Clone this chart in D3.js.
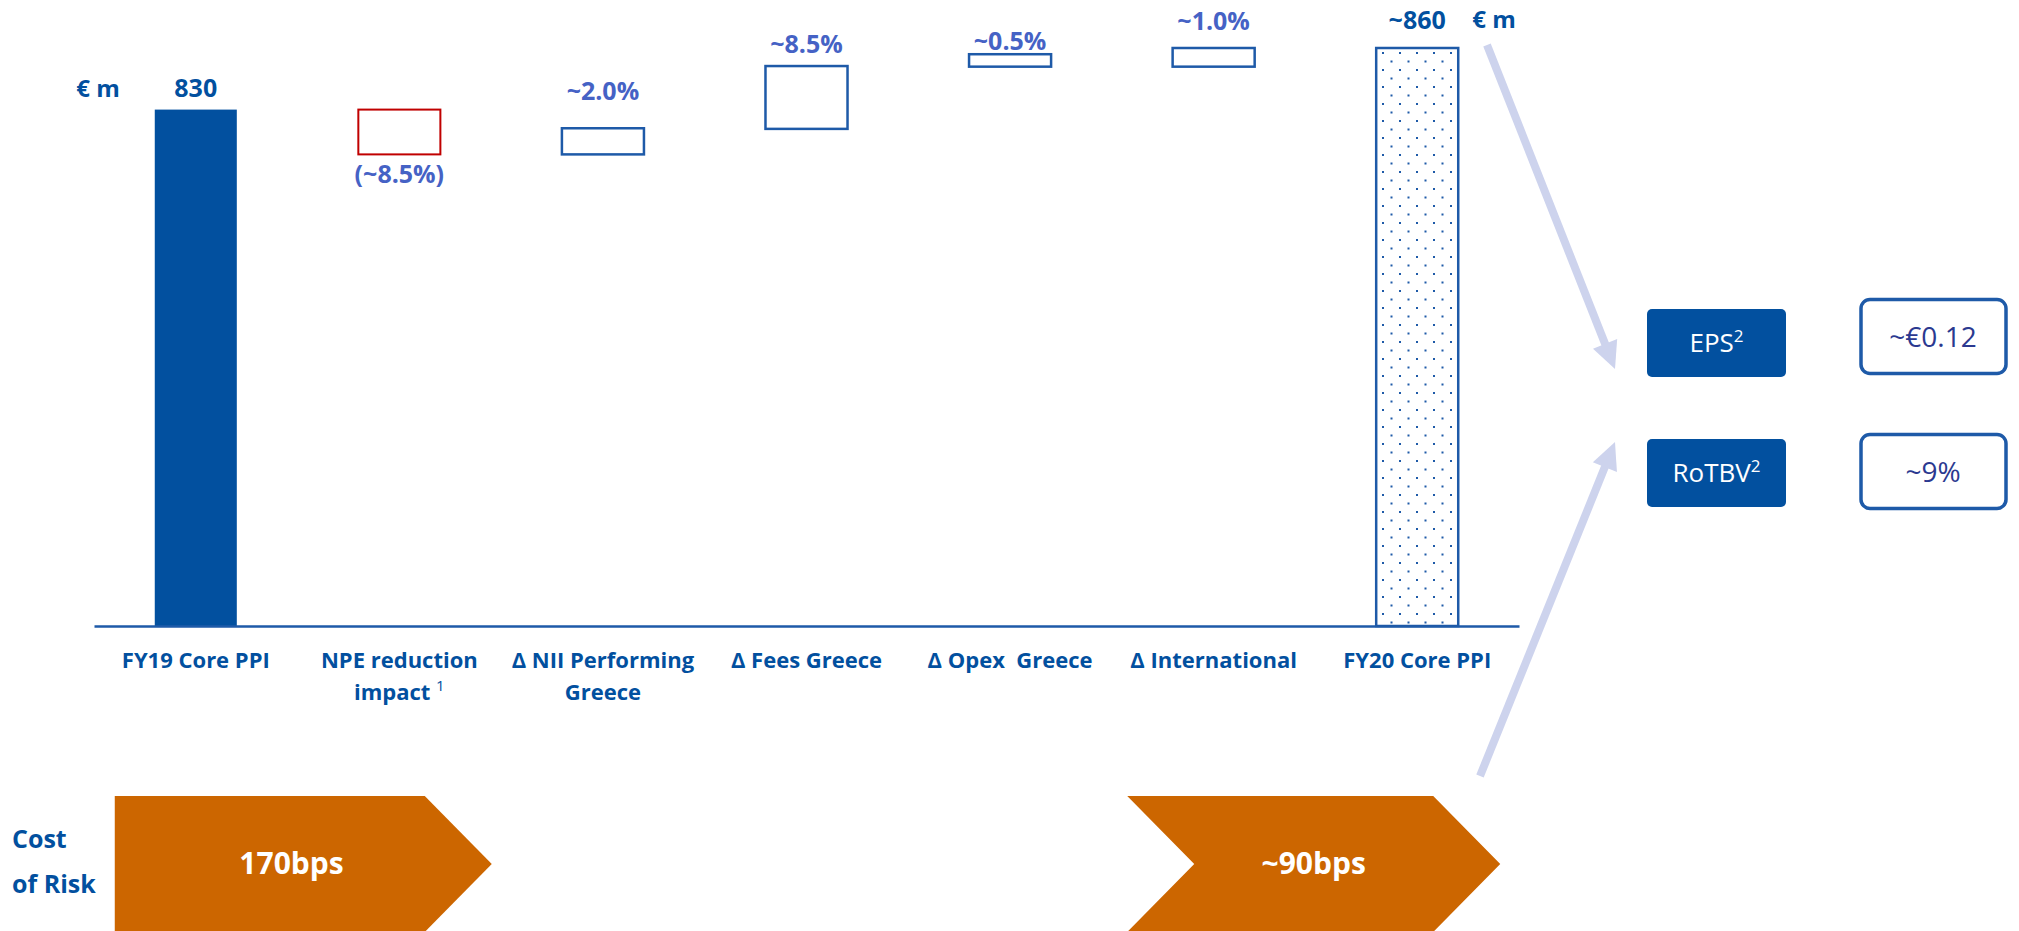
<!DOCTYPE html>
<html>
<head>
<meta charset="utf-8">
<script src="https://cdn.jsdelivr.net/npm/d3@7"></script>
<style>
  body { margin: 0; background: #fff; }
  text { font-family: 'Open Sans', sans-serif; }
</style>
</head>
<body>
<div id="chart"></div>
<script>
// waterfall steps, € m (the original slide is illustrative, bars read as drawn)
const categories = ['FY19 Core PPI', 'NPE reduction|impact ^1', 'Δ NII Performing|Greece', 'Δ Fees Greece', 'Δ Opex  Greece', 'Δ International', 'FY20 Core PPI'];
const barKind = ['total', 'down', 'up', 'up', 'up', 'up', 'total'];
const barStart = [0, 830, 758, 799, 899, 899, 0];
const barEnd = [830, 758, 800, 900, 919, 929, 929];
const valueLabels = ['830', '(~8.5%)', '~2.0%', '~8.5%', '~0.5%', '~1.0%', '~860'];
const costOfRisk = ['170bps', '~90bps'];
const kpiNames = ['EPS', 'RoTBV'];
const kpiValues = ['~€0.12', '~9%'];

const W = 2019, H = 931;
const dark = '#02509f', light = '#4562c5', outline = '#1e5aa8', red = '#c00000';
const orange = '#cc6600', arrowCol = '#cdd3ed', navy = '#2b3990';
const plot = { left: 94, right: 1519, top: 48, bottom: 626 };
const labelGap = [13, -29, 28, 13, 4, 18, 19];

const svg = d3.select('#chart').append('svg')
  .attr('width', W)
  .attr('height', H);

const defs = svg.append('defs');
const pat = defs.append('pattern')
  .attr('id', 'dots')
  .attr('patternUnits', 'userSpaceOnUse')
  .attr('width', 17).attr('height', 17)
  .attr('x', 1379).attr('y', 50);
pat.append('rect').attr('width', 17).attr('height', 17).attr('fill', '#fff');
pat.append('rect').attr('x', 3).attr('y', 2).attr('width', 2).attr('height', 2).attr('fill', outline);
pat.append('rect').attr('x', 11.5).attr('y', 10.5).attr('width', 2).attr('height', 2).attr('fill', outline);

const x = d3.scaleBand()
  .domain(categories)
  .range([plot.left, plot.right])
  .paddingInner(0.597)
  .paddingOuter(0.2985);

const y = d3.scaleLinear()
  .domain([0, d3.max(barEnd)])
  .range([plot.bottom, plot.top]);

const bars = categories.map((c, i) => ({
  cat: c, kind: barKind[i], s: barStart[i], e: barEnd[i], label: valueLabels[i], i
}));

// bars
svg.append('g').selectAll('rect')
  .data(bars)
  .join('rect')
  .attr('x', d => x(d.cat))
  .attr('width', x.bandwidth())
  .attr('y', d => y(Math.max(d.s, d.e)))
  .attr('height', d => Math.abs(y(d.s) - y(d.e)))
  .attr('fill', d => d.i === 0 ? dark : (d.kind === 'total' ? 'url(#dots)' : '#fff'))
  .attr('stroke', d => d.i === 0 ? 'none' : (d.kind === 'down' ? red : outline))
  .attr('stroke-width', d => d.kind === 'down' ? 2 : 2.5);

// axis
const axis = svg.append('g')
  .attr('transform', `translate(0,${plot.bottom})`)
  .call(d3.axisBottom(x).tickSize(0));
axis.attr('font-family', null).attr('font-size', null);
axis.select('.domain').attr('stroke', outline).attr('stroke-width', 2.5);
axis.selectAll('.tick text').each(function(d) {
  const t = d3.select(this).attr('y', 0).attr('dy', null).text(null)
    .attr('fill', dark)
    .style('font-size', '22px')
    .style('font-weight', 700)
    .style('white-space', 'pre');
  d.split('|').forEach((line, k) => {
    const parts = line.split('^');
    const ts = t.append('tspan').attr('x', 0).attr('y', 42 + k * 32).text(parts[0]);
    if (parts[1]) {
      t.append('tspan')
        .attr('dy', -9)
        .style('font-size', '15px')
        .style('font-weight', 400)
        .text(parts[1]);
    }
  });
});

// value labels
svg.append('g').selectAll('text')
  .data(bars)
  .join('text')
  .attr('x', d => x(d.cat) + x.bandwidth() / 2)
  .attr('y', d => y(Math.max(d.s, d.e)) - labelGap[d.i] + (d.kind === 'down' ? y(d.e) - y(d.s) : 0))
  .attr('text-anchor', 'middle')
  .attr('fill', d => d.kind === 'total' ? dark : light)
  .style('font-size', d => d.kind === 'total' ? '25px' : '25px')
  .style('font-weight', 700)
  .text(d => d.label);

// unit labels
svg.append('text')
  .attr('x', x(categories[0]) - 35).attr('y', 97)
  .attr('text-anchor', 'end')
  .attr('fill', dark).style('font-size', '24px').style('font-weight', 700)
  .text('€ m');
svg.append('text')
  .attr('x', x(categories[6]) + x.bandwidth() + 14).attr('y', 28)
  .attr('fill', dark).style('font-size', '24px').style('font-weight', 700)
  .text('€ m');

// arrows to the KPI boxes
function arrow(x1, y1, x2, y2) {
  const len = Math.hypot(x2 - x1, y2 - y1);
  const ux = (x2 - x1) / len, uy = (y2 - y1) / len;
  const hl = 27, hw = 13;
  const bx = x2 - ux * hl, by = y2 - uy * hl;
  svg.append('line')
    .attr('x1', x1).attr('y1', y1).attr('x2', bx + ux).attr('y2', by + uy)
    .attr('stroke', arrowCol).attr('stroke-width', 8);
  svg.append('path')
    .attr('d', `M${x2},${y2}L${bx - uy * hw},${by + ux * hw}L${bx + uy * hw},${by - ux * hw}Z`)
    .attr('fill', arrowCol);
}
arrow(1487, 45, 1615, 369);
arrow(1480, 776, 1615, 442);

// KPI boxes
const kpiRows = [343, 473];
const valRows = [336.5, 471.5];
kpiNames.forEach((n, i) => {
  svg.append('rect')
    .attr('x', 1647).attr('y', kpiRows[i] - 34)
    .attr('width', 139).attr('height', 68).attr('rx', 5)
    .attr('fill', dark);
  const t = svg.append('text')
    .attr('x', 1716.5).attr('y', kpiRows[i] + 9)
    .attr('text-anchor', 'middle')
    .attr('fill', '#fff').style('font-size', '26px')
    .text(n);
  t.append('tspan').attr('dy', -10).style('font-size', '17px').text('2');
  svg.append('rect')
    .attr('x', 1861).attr('y', valRows[i] - 37)
    .attr('width', 145).attr('height', 74).attr('rx', 9)
    .attr('fill', '#fff').attr('stroke', outline).attr('stroke-width', 3.5);
  svg.append('text')
    .attr('x', 1933).attr('y', valRows[i] + 10)
    .attr('text-anchor', 'middle')
    .attr('fill', navy).style('font-size', '28px')
    .text(kpiValues[i]);
});

// cost of risk chevrons
const chevTop = 796, chevBot = 932, chevMid = (chevTop + chevBot) / 2, depth = 67;
const c1l = x(categories[0]) - 40, c1r = c1l + 377;
const c2r = x(categories[6]) + x.bandwidth() + 42, c2l = c2r - 373;
svg.append('path')
  .attr('d', `M${c1l},${chevTop}H${c1r - depth}L${c1r},${chevMid}L${c1r - depth},${chevBot}H${c1l}Z`)
  .attr('fill', orange);
svg.append('path')
  .attr('d', `M${c2l},${chevTop}H${c2r - depth}L${c2r},${chevMid}L${c2r - depth},${chevBot}H${c2l}L${c2l + depth},${chevMid}Z`)
  .attr('fill', orange);
[[(c1l + c1r - 0.35 * depth) / 2, costOfRisk[0]], [(c2l + c2r) / 2, costOfRisk[1]]].forEach(([cx, s]) => {
  svg.append('text')
    .attr('x', cx).attr('y', 874)
    .attr('text-anchor', 'middle')
    .attr('fill', '#fff').style('font-size', '30px').style('font-weight', 700)
    .text(s);
});
svg.append('text')
  .attr('x', 12).attr('y', 848)
  .attr('fill', dark).style('font-size', '25px').style('font-weight', 700)
  .text('Cost');
svg.append('text')
  .attr('x', 12).attr('y', 893)
  .attr('fill', dark).style('font-size', '25px').style('font-weight', 700)
  .text('of Risk');
</script>
</body>
</html>
